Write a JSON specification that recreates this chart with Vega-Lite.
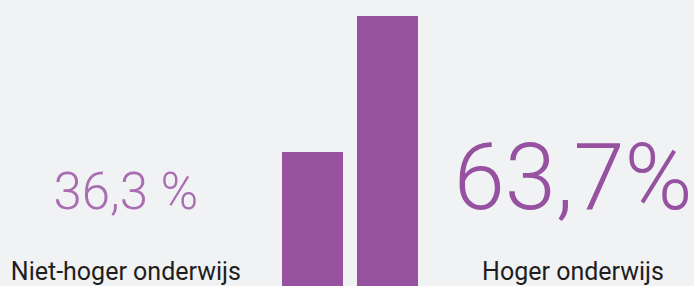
{
  "$schema": "https://vega.github.io/schema/vega-lite/v6.json",
  "width": 694,
  "height": 286,
  "autosize": {"type": "none"},
  "padding": 0,
  "background": "#f1f2f4",
  "config": {"view": {"stroke": null}},
  "data": {
    "values": [
      {"groep": "Niet-hoger onderwijs", "aandeel": 36.3, "tekst": "36,3 %"},
      {"groep": "Hoger onderwijs", "aandeel": 63.7, "tekst": "63,7%"}
    ]
  },
  "resolve": {"scale": {"x": "independent", "size": "independent", "color": "independent"}},
  "layer": [
    {
      "mark": {"type": "bar", "color": "#96519f"},
      "encoding": {
        "x": {"field": "groep", "type": "nominal", "sort": null, "axis": null,
              "scale": {"type": "band", "paddingInner": 0.1867, "paddingOuter": 0, "range": [282, 418]}},
        "y": {"field": "aandeel", "type": "quantitative", "axis": null,
              "scale": {"domain": [9.3, 66.9], "zero": false, "nice": false}}
      }
    },
    {
      "layer": [
        {
          "mark": {"type": "text", "font": "Roboto", "fontWeight": 300, "baseline": "alphabetic", "align": "center",
                   "y": {"expr": "height"}, "dy": -77},
          "encoding": {
            "x": {"field": "groep", "type": "nominal", "sort": null, "axis": null,
                  "scale": {"type": "point", "domain": ["Niet-hoger onderwijs", "Hoger onderwijs"], "padding": 0.276, "align": 0.51}},
            "text": {"field": "tekst"},
            "size": {"field": "groep", "type": "nominal", "legend": null,
                     "scale": {"domain": ["Niet-hoger onderwijs", "Hoger onderwijs"], "range": [51, 92]}},
            "color": {"field": "groep", "type": "nominal", "legend": null,
                      "scale": {"domain": ["Niet-hoger onderwijs", "Hoger onderwijs"], "range": ["#a96db1", "#9652a0"]}}
          }
        },
        {
          "mark": {"type": "text", "font": "Roboto", "fontSize": 25, "color": "#1e1e1e", "baseline": "alphabetic", "align": "center",
                   "y": {"expr": "height"}, "dy": -6},
          "encoding": {
            "x": {"field": "groep", "type": "nominal", "sort": null, "axis": null,
                  "scale": {"type": "point", "domain": ["Niet-hoger onderwijs", "Hoger onderwijs"], "padding": 0.276, "align": 0.51}},
            "text": {"field": "groep"}
          }
        }
      ]
    }
  ]
}
